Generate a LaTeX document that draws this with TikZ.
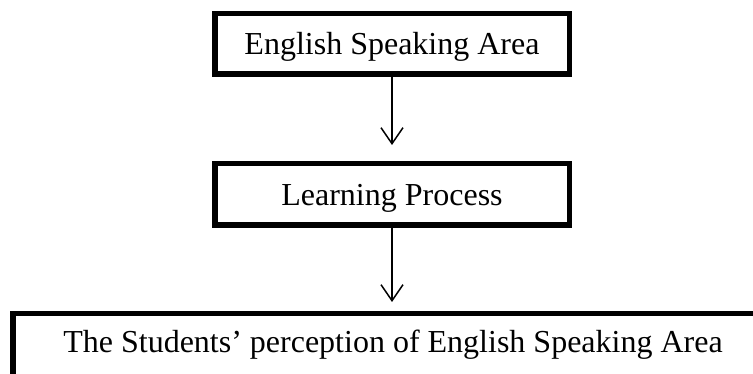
\documentclass[tikz,border=0pt]{standalone}
\usepackage{fontspec}
\setmainfont{Liberation Serif}
\usetikzlibrary{arrows.meta}
\begin{document}
\begin{tikzpicture}[x=1pt,y=1pt,
  txt/.style={font=\fontsize{32}{38}\selectfont,text height=21.5pt,text depth=0pt,inner sep=0pt},
  box/.style={txt,draw,line width=5.5pt,minimum width=354.5pt,minimum height=60.5pt},
  bigbox/.style={draw,line width=5.5pt,minimum width=780pt,minimum height=120pt,inner sep=0pt},
  arr/.style={line width=1.5pt,-{Straight Barb[length=16pt,width=22pt,line width=1.5pt]}}]
\useasboundingbox (0,0) rectangle (753,374);
\clip (0,0) rectangle (753,374);
\node[box] (b1) at (392,330) {English Speaking Area};
\node[box,minimum height=61.5pt] (b2) at (392,179.5) {Learning Process};
\node[bigbox,anchor=north west] (b3) at (10,63) {};
\node[txt] (t3) at (393,32) {The Students’ perception of English Speaking Area};
\draw[arr,shorten >=16pt] (b1.south) -- (b2.north);
\draw[arr,shorten >=9pt] (b2.south) -- (b2.south |- b3.north);
\end{tikzpicture}
\end{document}
